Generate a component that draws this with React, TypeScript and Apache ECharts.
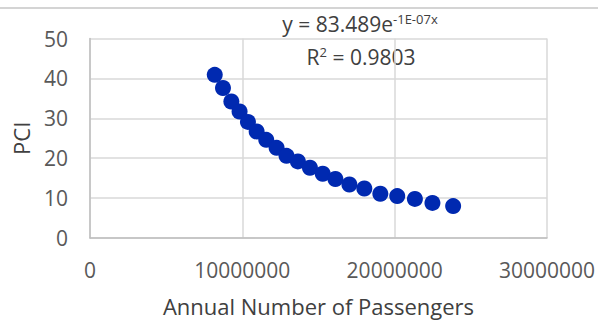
import React, { useEffect, useRef } from "react";
import * as echarts from "echarts";

const xValues = [
  8190000, 8730000, 9280000, 9820000, 10370000, 10940000, 11570000, 12250000,
  12900000, 13650000, 14440000, 15280000, 16110000, 17030000, 18010000,
  19060000, 20170000, 21330000, 22480000, 23840000,
];
const yValues = [
  40.9, 37.6, 34.2, 31.7, 29.1, 26.7, 24.6, 22.6, 20.6, 19.2, 17.6, 16.1, 14.8,
  13.4, 12.4, 11.1, 10.5, 9.8, 8.8, 8.0,
];
const equationMain = "y = 83.489e";
const equationExp = "-1E-07x";
const rSquared = "0.9803";
const xTitle = "Annual Number of Passengers";
const yTitle = "PCI";

const FONT = "'Open Sans', 'Noto Sans', sans-serif";

export default function App() {
  const ref = useRef<HTMLDivElement>(null);
  useEffect(() => {
    if (!ref.current) return;
    const chart = echarts.init(ref.current, undefined, { renderer: "svg" });
    const points = xValues.map((x, i) => [x, yValues[i]]);
    chart.setOption({
      animation: false,
      backgroundColor: "#ffffff",
      grid: { left: 90, right: 50, top: 38.5, bottom: 83.5 },
      xAxis: {
        type: "value",
        min: 0,
        max: 30000000,
        interval: 10000000,
        name: xTitle,
        nameLocation: "middle",
        nameGap: 57,
        nameTextStyle: { fontFamily: FONT, fontSize: 22, color: "#404040" },
        axisLine: { show: true, lineStyle: { color: "#bfbfbf", width: 1.5 } },
        axisTick: { show: false },
        axisLabel: {
          fontFamily: FONT,
          fontSize: 21,
          color: "#595959",
          margin: 21,
          formatter: (v: number) => String(v),
        },
        splitLine: { show: true, lineStyle: { color: "#d9d9d9", width: 1.5 } },
      },
      yAxis: {
        type: "value",
        min: 0,
        max: 50,
        interval: 10,
        name: yTitle,
        nameLocation: "middle",
        nameGap: 58,
        nameTextStyle: { fontFamily: FONT, fontSize: 22, color: "#404040" },
        axisLine: { show: true, lineStyle: { color: "#bfbfbf", width: 1.5 } },
        axisTick: { show: false },
        axisLabel: {
          fontFamily: FONT,
          fontSize: 21,
          color: "#595959",
          margin: 22,
        },
        splitLine: { show: true, lineStyle: { color: "#d9d9d9", width: 1.5 } },
      },
      series: [
        {
          type: "scatter",
          data: points,
          symbol: "circle",
          symbolSize: 16,
          itemStyle: { color: "#0029b0", opacity: 1 },
        },
      ],
      graphic: [
        {
          type: "line",
          shape: { x1: 0, y1: 8, x2: 598, y2: 8 },
          style: { stroke: "#d4d4d4", lineWidth: 2 },
          silent: true,
        },
        {
          type: "text",
          x: 360,
          y: 24,
          style: {
            text: `{a|${equationMain}}{b|${equationExp}}`,
            align: "center",
            verticalAlign: "middle",
            rich: {
              a: { fontFamily: FONT, fontSize: 21, fill: "#404040", lineHeight: 24 },
              b: {
                fontFamily: FONT,
                fontSize: 13,
                fill: "#404040",
                verticalAlign: "top",
                lineHeight: 24,
                padding: [0, 0, 10, 0],
              },
            },
          },
        },
        {
          type: "text",
          x: 361,
          y: 57,
          style: {
            text: `{a|R}{s|2}{a| = ${rSquared}}`,
            align: "center",
            verticalAlign: "middle",
            rich: {
              a: { fontFamily: FONT, fontSize: 21, fill: "#404040", lineHeight: 24 },
              s: {
                fontFamily: FONT,
                fontSize: 13,
                fill: "#404040",
                lineHeight: 24,
                padding: [0, 0, 10, 0],
              },
            },
          },
        },
      ],
    });
    return () => chart.dispose();
  }, []);
  return (
    <div
      ref={ref}
      style={{ position: "fixed", left: 0, top: 0, width: 598, height: 322 }}
    />
  );
}
